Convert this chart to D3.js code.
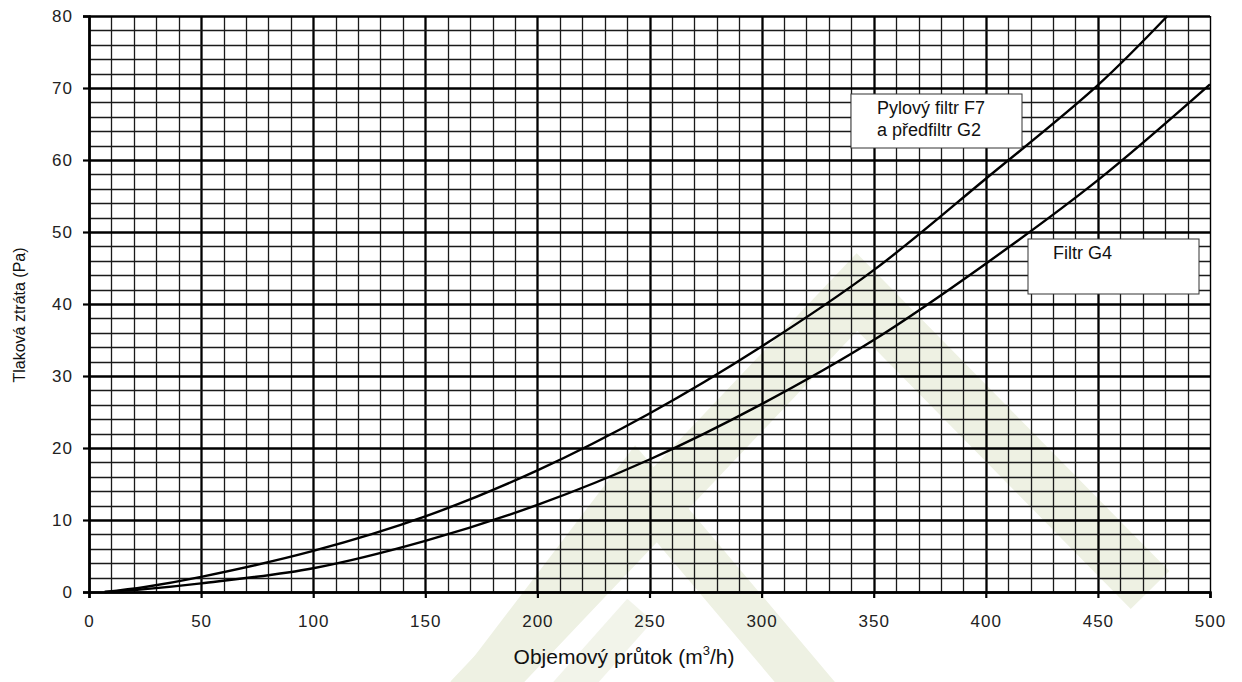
<!DOCTYPE html>
<html>
<head>
<meta charset="utf-8">
<script src="https://cdn.jsdelivr.net/npm/d3@7"></script>
<style>
  body { margin: 0; background: #fff; }
  svg { display: block; }
</style>
</head>
<body>
<div id="chart"></div>
<script>
// flow (m3/h) and pressure loss (Pa)
var flowF7 = [7, 25, 50, 100, 150, 200, 250, 300, 350, 400, 450, 481];
var lossF7 = [0, 0.7, 2.1, 5.7, 10.5, 16.9, 24.8, 34.1, 44.7, 57.4, 70.4, 80];
var flowG4 = [7, 25, 50, 100, 150, 200, 250, 300, 350, 400, 450, 500];
var lossG4 = [0, 0.4, 1.2, 3.3, 7.1, 12.1, 18.4, 26.1, 35, 45.6, 57.2, 70.5];

var xTicks = [0, 50, 100, 150, 200, 250, 300, 350, 400, 450, 500];
var yTicks = [0, 10, 20, 30, 40, 50, 60, 70, 80];

var seriesNames = ["Pylový filtr F7", "a předfiltr G2", "Filtr G4"];

var width = 1242, height = 682;
var x = d3.scaleLinear().domain([0, 500]).range([89, 1210]);
var y = d3.scaleLinear().domain([0, 80]).range([592, 16]);

var svg = d3.select('#chart')
    .append('svg')
    .attr('width', width)
    .attr('height', height)
    .style('font-family', '"Liberation Sans", Arial, sans-serif');

// faint watermark logo behind the grid
var wm = svg.append('g');
var band = function (pts, w, c) {
    wm.append('path')
        .attr('d', d3.line()(pts))
        .attr('fill', 'none')
        .attr('stroke', c)
        .attr('stroke-width', w)
        .attr('stroke-linejoin', 'miter');
};
band([[470, 700], [857, 292], [1150, 590]], 54, '#eef1e3');
band([[470, 700], [636, 482], [820, 700]], 46, '#eef1e3');
band([[560, 700], [640, 610]], 34, '#f2f4ea');

// grid
var grid = svg.append('g');
d3.range(0, 501, 10).forEach(function (v) {
    var major = v % 50 === 0;
    grid.append('line')
        .attr('x1', Math.round(x(v)) + 0.5).attr('x2', Math.round(x(v)) + 0.5)
        .attr('y1', y(80)).attr('y2', y(0))
        .attr('stroke', major ? '#000' : '#1a1a1a')
        .attr('stroke-width', major ? (v === 500 ? 1.4 : 2.3) : 1.3);
});
d3.range(0, 81, 2).forEach(function (v) {
    var major = v % 10 === 0;
    grid.append('line')
        .attr('x1', x(0)).attr('x2', x(500))
        .attr('y1', Math.round(y(v)) + 0.5).attr('y2', Math.round(y(v)) + 0.5)
        .attr('stroke', major ? '#000' : '#1a1a1a')
        .attr('stroke-width', major ? 2.3 : 1.3);
});

// axes
var xAxis = svg.append('g')
    .attr('transform', 'translate(0,' + y(0) + ')')
    .call(d3.axisBottom(x).tickValues(xTicks).tickSize(6).tickPadding(17));
var yAxis = svg.append('g')
    .attr('transform', 'translate(' + x(0) + ',0)')
    .call(d3.axisLeft(y).tickValues(yTicks).tickSize(6).tickPadding(10));

[xAxis, yAxis].forEach(function (a) {
    a.select('.domain').attr('stroke', '#000').attr('stroke-width', 2.5);
    a.selectAll('.tick line').attr('stroke', '#000').attr('stroke-width', 2.2);
    a.selectAll('.tick text')
        .attr('fill', '#222')
        .style('font-size', '17px')
        .style('letter-spacing', '1px')
        .style('font-family', '"Liberation Sans", Arial, sans-serif');
});

// curves
var line = d3.line()
    .x(function (d) { return x(d[0]); })
    .y(function (d) { return y(d[1]); })
    .curve(d3.curveCatmullRom);

svg.append('path')
    .attr('d', line(d3.zip(flowF7, lossF7)))
    .attr('fill', 'none')
    .attr('stroke', '#000')
    .attr('stroke-width', 2.4);

svg.append('path')
    .attr('d', line(d3.zip(flowG4, lossG4)))
    .attr('fill', 'none')
    .attr('stroke', '#000')
    .attr('stroke-width', 2.4);

// labels
svg.append('rect')
    .attr('x', 851).attr('y', 94).attr('width', 171).attr('height', 54)
    .attr('fill', '#fff').attr('stroke', '#333').attr('stroke-width', 1);
svg.append('text').attr('x', 877).attr('y', 114)
    .style('font-size', '18px').attr('fill', '#111').text(seriesNames[0]);
svg.append('text').attr('x', 877).attr('y', 136)
    .style('font-size', '18px').attr('fill', '#111').text(seriesNames[1]);

svg.append('rect')
    .attr('x', 1028).attr('y', 239).attr('width', 171).attr('height', 55)
    .attr('fill', '#fff').attr('stroke', '#333').attr('stroke-width', 1);
svg.append('text').attr('x', 1053).attr('y', 259)
    .style('font-size', '18px').attr('fill', '#111').text(seriesNames[2]);

// axis titles
var xt = svg.append('text')
    .attr('x', 624).attr('y', 664)
    .attr('text-anchor', 'middle')
    .attr('fill', '#111')
    .style('font-size', '21px');
xt.append('tspan').text('Objemový průtok (m');
xt.append('tspan').attr('dy', -9).style('font-size', '13px').text('3');
xt.append('tspan').attr('dy', 9).text('/h)');

svg.append('text')
    .attr('transform', 'translate(25,315) rotate(-90)')
    .attr('text-anchor', 'middle')
    .attr('fill', '#111')
    .style('font-size', '16px')
    .text('Tlaková ztráta (Pa)');
</script>
</body>
</html>
